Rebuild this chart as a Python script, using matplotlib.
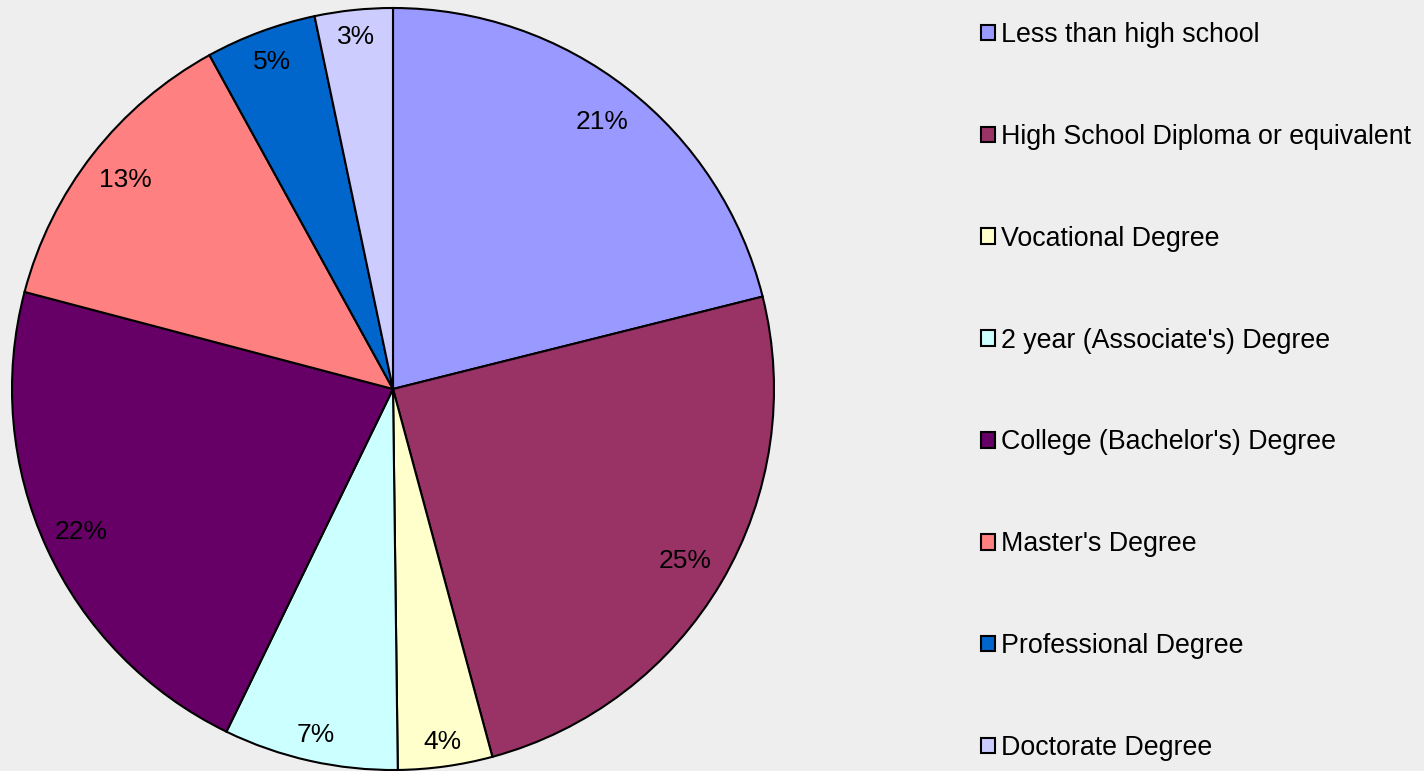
import matplotlib.pyplot as plt
import numpy as np

plt.rcParams['font.family'] = ['Liberation Sans', 'DejaVu Sans']

labels = ["Less than high school", "High School Diploma or equivalent",
          "Vocational Degree", "2 year (Associate's) Degree",
          "College (Bachelor's) Degree", "Master's Degree",
          "Professional Degree", "Doctorate Degree"]
shares = [21.1, 24.7, 4.0, 7.4, 21.9, 12.9, 4.7, 3.3]
colors = ['#9999FF', '#993366', '#FFFFCC', '#CCFFFF',
          '#660066', '#FF8080', '#0066CC', '#CCCCFF']
# label distance from centre (fraction of radius), small slices sit further out
label_r = [0.89, 0.89, 0.935, 0.93, 0.90, 0.89, 0.915, 0.93]

fig = plt.figure(figsize=(14.24, 7.71), dpi=100)
fig.patch.set_facecolor('#EEEEEE')

ax = fig.add_axes([12 / 1424, 1 / 771, 762 / 1424, 762 / 771])
wedges, texts, autotexts = ax.pie(
    shares, colors=colors, startangle=90, counterclock=False,
    autopct='%1.0f%%', pctdistance=0.9, radius=1,
    wedgeprops=dict(edgecolor='black', linewidth=1.5),
    textprops=dict(fontsize=19, color='black'))
for w in wedges:
    w.set_clip_on(False)
for t, r in zip(autotexts, label_r):
    x, y = t.get_position()
    d = np.hypot(x, y)
    t.set_position((x / d * r, y / d * r))
ax.set_xlim(-1, 1)
ax.set_ylim(-1, 1)
ax.set_aspect('equal')

fig.legend(wedges, labels, loc='upper left',
           bbox_to_anchor=(981 / 1424, 1 - 22 / 771),
           frameon=False, fontsize=19.3, borderpad=0, borderaxespad=0,
           handlelength=0.52, handleheight=0.52, handletextpad=0.24,
           labelspacing=2.83)

fig.savefig('out.png', dpi=100, facecolor=fig.get_facecolor())
